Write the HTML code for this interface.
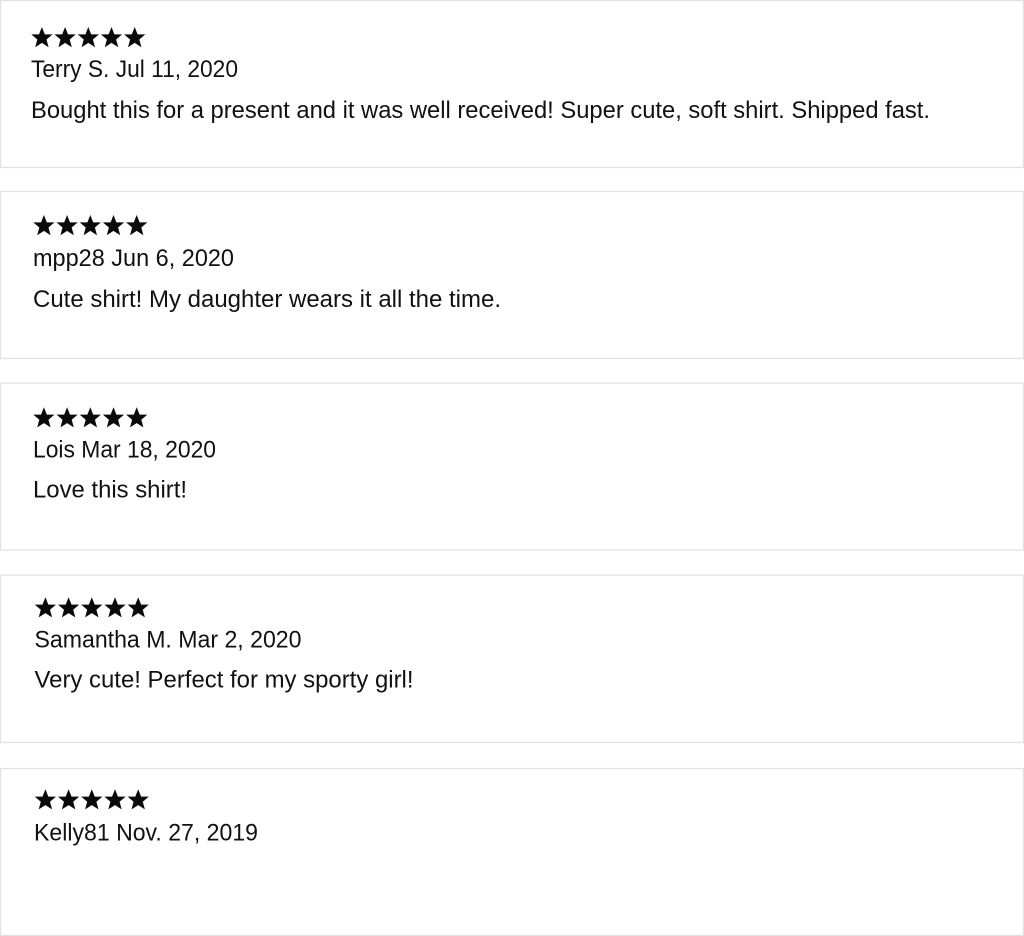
<!DOCTYPE html>
<html><head><meta charset="utf-8"><style>
html,body{margin:0;padding:0;background:#fff}
svg{display:block}
text{font-family:"Liberation Sans",sans-serif;font-size:24px;fill:#111}
rect{fill:#fff;stroke:#e2e2e2;stroke-width:1.3}
</style></head><body>
<svg width="1024" height="936" viewBox="0 0 1024 936" xmlns="http://www.w3.org/2000/svg">
<defs><g id="s"><polygon points="0,-11 2.9,-3.6 10.6,-3.6 4.6,1.5 6.7,9.2 0,4.9 -6.7,9.2 -4.6,1.5 -10.6,-3.6 -2.9,-3.6" fill="#0a0a0a"/></g>
<g id="r"><use href="#s" x="10.9"/><use href="#s" x="34.1"/><use href="#s" x="57.3"/><use href="#s" x="80.5"/><use href="#s" x="103.7"/></g></defs>
<rect x="0.5" y="0.5" width="1023" height="167"/>
<rect x="0.5" y="191.5" width="1023" height="167"/>
<rect x="0.5" y="383" width="1023" height="167"/>
<rect x="0.5" y="575" width="1023" height="167.5"/>
<rect x="0.5" y="768.5" width="1023" height="167"/>
<use href="#r" x="31" y="38"/>
<text x="31" y="77" textLength="207" lengthAdjust="spacingAndGlyphs">Terry S. Jul 11, 2020</text>
<text x="31" y="118" textLength="899" lengthAdjust="spacingAndGlyphs">Bought this for a present and it was well received! Super cute, soft shirt. Shipped fast.</text>
<use href="#r" x="33" y="226"/>
<text x="33" y="266" textLength="201" lengthAdjust="spacingAndGlyphs">mpp28 Jun 6, 2020</text>
<text x="33" y="307" textLength="468" lengthAdjust="spacingAndGlyphs">Cute shirt! My daughter wears it all the time.</text>
<use href="#r" x="33" y="418.2"/>
<text x="33" y="457.5" textLength="183" lengthAdjust="spacingAndGlyphs">Lois Mar 18, 2020</text>
<text x="33" y="497.5" textLength="154" lengthAdjust="spacingAndGlyphs">Love this shirt!</text>
<use href="#r" x="34.5" y="608.2"/>
<text x="34.5" y="647.5" textLength="267" lengthAdjust="spacingAndGlyphs">Samantha M. Mar 2, 2020</text>
<text x="34.5" y="687.5" textLength="379" lengthAdjust="spacingAndGlyphs">Very cute! Perfect for my sporty girl!</text>
<use href="#r" x="34.5" y="800.2"/>
<text x="34" y="840.5" textLength="224" lengthAdjust="spacingAndGlyphs">Kelly81 Nov. 27, 2019</text>
</svg>
</body></html>
